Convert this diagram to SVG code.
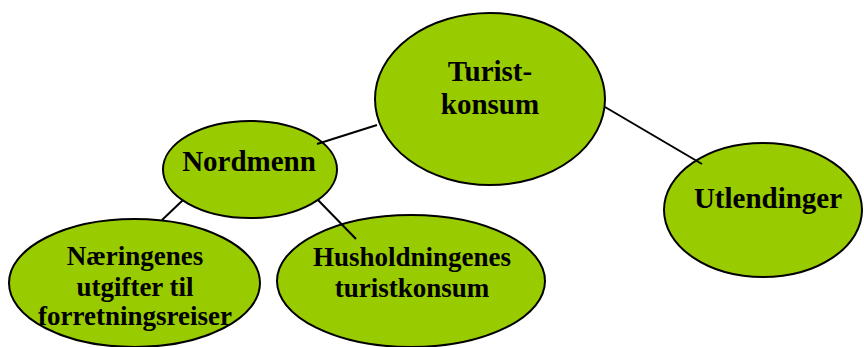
<svg xmlns="http://www.w3.org/2000/svg" width="864" height="347" viewBox="0 0 864 347">
<style>
.n{fill:#99cc00;stroke:#000;stroke-width:2}
.c line{stroke:#000;stroke-width:2}
text{font-family:"Liberation Serif","Times New Roman",serif;font-weight:bold;fill:#000;text-anchor:middle}
.b{font-size:29px}
.s{font-size:27px}
</style>
<rect width="864" height="347" fill="#fff"/>
<g id="turistkonsum">
<ellipse class="n" cx="490" cy="99" rx="115" ry="86"/>
<text class="b" x="490" y="81">Turist-</text>
<text class="b" x="490" y="114">konsum</text>
</g>
<g id="nordmenn">
<ellipse class="n" cx="250" cy="169.5" rx="87" ry="48.5"/>
<text class="b" x="249" y="171">Nordmenn</text>
</g>
<g id="utlendinger">
<ellipse class="n" cx="763" cy="210" rx="99" ry="67"/>
<text class="b" x="768" y="208">Utlendinger</text>
</g>
<g id="naeringenes">
<ellipse class="n" cx="134.5" cy="283" rx="125.5" ry="64"/>
<text class="s" x="135" y="265">Næringenes</text>
<text class="s" x="135" y="296">utgifter til</text>
<text class="s" x="135" y="325">forretningsreiser</text>
</g>
<g id="husholdningenes">
<ellipse class="n" cx="411" cy="281" rx="134" ry="66"/>
<text class="s" x="412" y="265.5">Husholdningenes</text>
<text class="s" x="412" y="296.5">turistkonsum</text>
</g>
<g id="connectors" class="c">
<line x1="377" y1="125" x2="317" y2="144"/>
<line x1="605" y1="107" x2="702" y2="164"/>
<line x1="183" y1="200" x2="162" y2="220"/>
<line x1="318" y1="200" x2="356" y2="239"/>
</g>
</svg>
